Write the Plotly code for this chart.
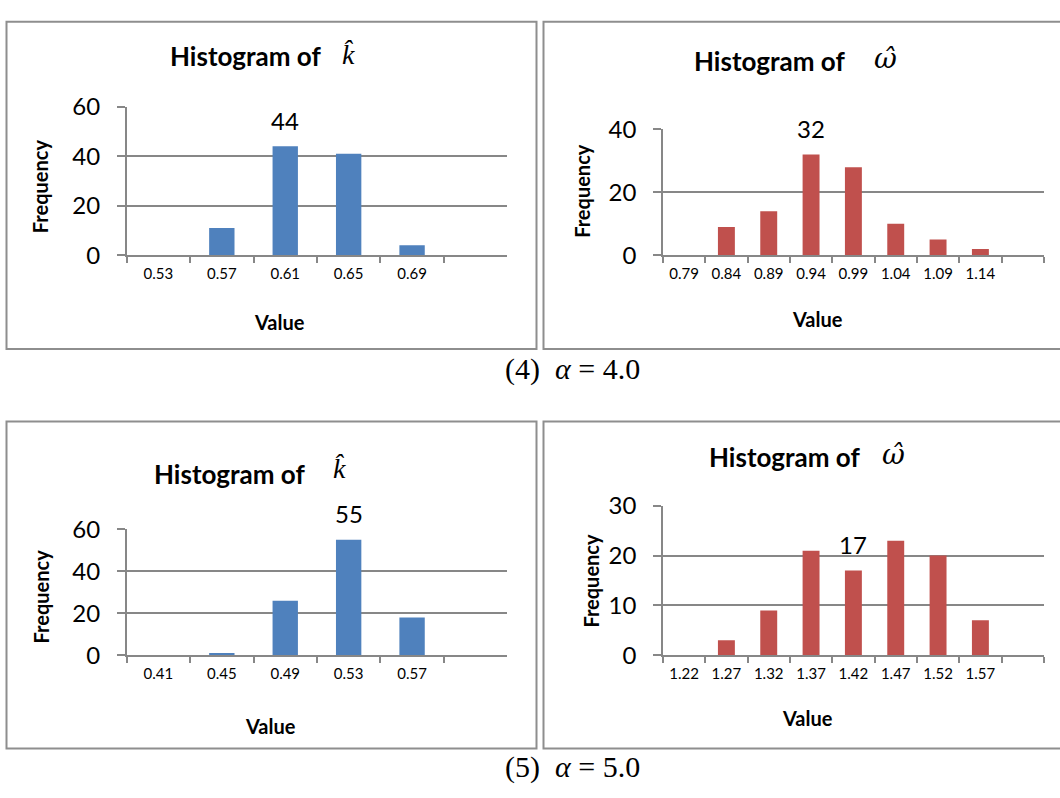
import plotly.graph_objects as go

W, H = 1060, 798

# ---------------- data ----------------
k4_bins = ["0.53", "0.57", "0.61", "0.65", "0.69", " "]
k4_counts = [0, 11, 44, 41, 4, 0]
k4_label_bin = "0.61"

w4_bins = ["0.79", "0.84", "0.89", "0.94", "0.99", "1.04", "1.09", "1.14", " "]
w4_counts = [0, 9, 14, 32, 28, 10, 5, 2, 0]
w4_label_bin = "0.94"

k5_bins = ["0.41", "0.45", "0.49", "0.53", "0.57", " "]
k5_counts = [0, 1, 26, 55, 18, 0]
k5_label_bin = "0.53"

w5_bins = ["1.22", "1.27", "1.32", "1.37", "1.42", "1.47", "1.52", "1.57", " "]
w5_counts = [0, 3, 9, 21, 17, 23, 20, 7, 0]
w5_label_bin = "1.42"

captions = ["(4)  <i>α</i> = 4.0", "(5)  <i>α</i> = 5.0"]

BLUE = "#4F81BD"
RED = "#C0504D"
GRID = "#878787"
BORDER = "#8E8E8E"
SANS = "Lato"
SERIF = "Liberation Serif"


def px(x):
    return x / W


def py(y):
    return 1 - y / H


panels = [
    dict(bins=k4_bins, counts=k4_counts, lab=k4_label_bin, color=BLUE, ymax=60, dtick=20,
         xd=(126.7, 507.2), yd=(94, 248.3), sym="<i>k̂</i>", symfont=SERIF,
         title=(245.7, 42), symxy=(348.5, 40), freq=(39.6, 177), val=(279, 318),
         box=(6.5, 6, 536.5, 345.5)),
    dict(bins=w4_bins, counts=w4_counts, lab=w4_label_bin, color=RED, ymax=40, dtick=20,
         xd=(662.9, 1043.9), yd=(117.7, 248.3), sym="<i>ω̂</i>", symfont="DejaVu Serif",
         title=(769.5, 47), symxy=(885, 44), freq=(582.4, 181), val=(817.4, 314),
         box=(543.5, 6, 1070, 345.5)),
    dict(bins=k5_bins, counts=k5_counts, lab=k5_label_bin, color=BLUE, ymax=60, dtick=20,
         xd=(126.7, 507.2), yd=(532.7, 663.3), sym="<i>k̂</i>", symfont=SERIF,
         title=(229.9, 475), symxy=(339.2, 470), freq=(41.3, 602), val=(270.3, 737),
         box=(6.5, 420.7, 536.5, 760)),
    dict(bins=w5_bins, counts=w5_counts, lab=w5_label_bin, color=RED, ymax=30, dtick=10,
         xd=(662.9, 1043.9), yd=(508.3, 663.3), sym="<i>ω̂</i>", symfont="DejaVu Serif",
         title=(784.4, 458), symxy=(893.4, 455), freq=(590.9, 586), val=(807.7, 728),
         box=(543.5, 420.7, 1070, 760)),
]

fig = go.Figure()
annotations = []
shapes = []

for i, p in enumerate(panels, start=1):
    xa = "x" if i == 1 else f"x{i}"
    ya = "y" if i == 1 else f"y{i}"
    fig.add_trace(go.Bar(x=p["bins"], y=p["counts"], marker_color=p["color"],
                         marker_line_width=0, width=0.4, xaxis=xa, yaxis=ya,
                         showlegend=False, hoverinfo="skip"))
    xkey = "xaxis" if i == 1 else f"xaxis{i}"
    ykey = "yaxis" if i == 1 else f"yaxis{i}"
    fig.update_layout(**{
        xkey: dict(domain=[px(p["xd"][0]), px(p["xd"][1])], anchor=ya, type="category",
                   categoryorder="array", categoryarray=p["bins"],
                   range=[-0.5, len(p["bins"]) - 0.5],
                   showgrid=False, zeroline=False, showline=True, linecolor=GRID, linewidth=1.5,
                   ticks="outside", tickson="boundaries", ticklen=6, tickwidth=1.5, tickcolor=GRID,
                   tickfont=dict(family=SANS, size=15, color="#000000"),
                   ticklabelstandoff=4, fixedrange=True),
        ykey: dict(domain=[py(p["yd"][1]), py(p["yd"][0])], anchor=xa,
                   range=[0, p["ymax"]], dtick=p["dtick"], tick0=0,
                   showgrid=True, gridcolor=GRID, gridwidth=1.5, zeroline=False,
                   showline=True, linecolor=GRID, linewidth=1.5,
                   ticks="outside", ticklen=8, tickwidth=1.5, tickcolor=GRID,
                   tickfont=dict(family=SANS, size=24, color="#000000"),
                   ticklabelstandoff=12, fixedrange=True),
    })
    # data label on highlighted bar (positioned via category index)
    idx = p["bins"].index(p["lab"])
    annotations.append(dict(xref=xa, yref=ya, x=idx, y=p["counts"][idx],
                            text=str(p["counts"][idx]), showarrow=False,
                            yanchor="middle", yshift=26,
                            font=dict(family=SANS, size=24, color="#000000")))
    # title
    annotations.append(dict(xref="paper", yref="paper", x=px(p["title"][0]), y=py(p["title"][1]),
                            text="<b>Histogram of</b>", showarrow=False,
                            xanchor="center", yanchor="middle",
                            font=dict(family=SANS, size=26, color="#000000")))
    annotations.append(dict(xref="paper", yref="paper", x=px(p["symxy"][0]), y=py(p["symxy"][1]),
                            text=p["sym"], showarrow=False,
                            xanchor="center", yanchor="middle",
                            font=dict(family=p["symfont"], size=28, color="#000000")))
    annotations.append(dict(xref="paper", yref="paper", x=px(p["freq"][0]), y=py(p["freq"][1]),
                            text="<b>Frequency</b>", showarrow=False, textangle=-90,
                            xanchor="center", yanchor="middle",
                            font=dict(family=SANS, size=20, color="#000000")))
    annotations.append(dict(xref="paper", yref="paper", x=px(p["val"][0]), y=py(p["val"][1]),
                            text="<b>Value</b>", showarrow=False,
                            xanchor="center", yanchor="middle",
                            font=dict(family=SANS, size=20, color="#000000")))
    b = p["box"]
    shapes.append(dict(type="rect", xref="paper", yref="paper",
                       x0=px(b[0]), x1=px(b[2]), y0=py(b[3]), y1=py(b[1]),
                       line=dict(color=BORDER, width=2), fillcolor="rgba(0,0,0,0)"))

annotations.append(dict(xref="paper", yref="paper", x=px(572), y=py(366), text=captions[0],
                        showarrow=False, xanchor="center", yanchor="middle",
                        font=dict(family=SERIF, size=30, color="#000000")))
annotations.append(dict(xref="paper", yref="paper", x=px(572), y=py(779), text=captions[1],
                        showarrow=False, xanchor="center", yanchor="middle",
                        font=dict(family=SERIF, size=30, color="#000000")))

fig.update_layout(width=W, height=H, margin=dict(l=0, r=0, t=0, b=0),
                  paper_bgcolor="#FFFFFF", plot_bgcolor="#FFFFFF",
                  annotations=annotations, shapes=shapes, bargap=0.6)

fig.write_html("out.html", config={"displayModeBar": False})
